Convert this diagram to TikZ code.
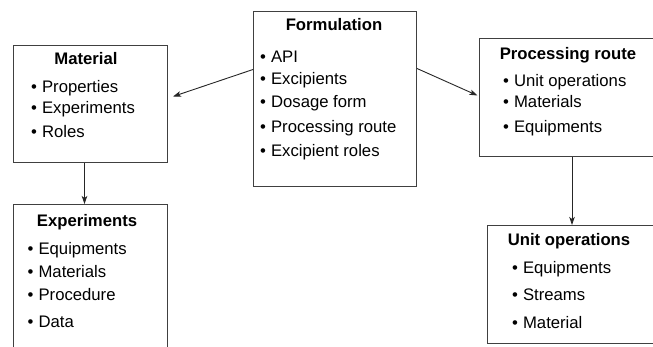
\documentclass[tikz,border=0pt]{standalone}
\usepackage{fontspec}
\setmainfont{Liberation Sans}
\usetikzlibrary{arrows.meta}
\begin{document}
\begin{tikzpicture}[x=1pt,y=-1pt,
  box/.style={draw=black!75,line width=1pt,inner sep=0pt,anchor=north west},
  ttl/.style={inner sep=0pt,anchor=base,font=\fontsize{16.7}{19}\selectfont\bfseries},
  itm/.style={inner sep=0pt,anchor=base west,font=\fontsize{16.7}{19}\selectfont},
  conn/.style={draw=black!85,line width=0.9pt,-{Stealth[length=8pt,width=5.5pt,inset=2pt]}}]
\useasboundingbox (0,0) rectangle (653,347);
\clip (0,0) rectangle (653,347);
\fill[white] (0,0) rectangle (653,347);

% boxes
\node[box,minimum width=163pt,minimum height=175pt] (form) at (253,11) {};
\node[box,minimum width=154pt,minimum height=117pt] (mat) at (13,45) {};
\node[box,minimum width=190pt,minimum height=118pt] (proc) at (479,38) {};
\node[box,minimum width=154pt,minimum height=170pt] (exp) at (13,204) {};
\node[box,minimum width=180pt,minimum height=118pt] (unit) at (487,225) {};

% Formulation
\node[ttl] (formt) at (334,30.5) {Formulation};
\node[itm] (f1) at (260,62.5) {•\hspace{0.3em}API};
\node[itm] (f2) at (260,85) {•\hspace{0.3em}Excipients};
\node[itm] (f3) at (260,108) {•\hspace{0.3em}Dosage form};
\node[itm] (f4) at (260,132.5) {•\hspace{0.3em}Processing route};
\node[itm] (f5) at (260,157) {•\hspace{0.3em}Excipient roles};

% Material
\node[ttl] (matt) at (86,65) {Material};
\node[itm] (m1) at (31,92.5) {•\hspace{0.3em}Properties};
\node[itm] (m2) at (31,113.5) {•\hspace{0.3em}Experiments};
\node[itm] (m3) at (31,138) {•\hspace{0.3em}Roles};

% Processing route
\node[ttl] (proct) at (568,60) {Processing route};
\node[itm] (p1) at (503,86.5) {•\hspace{0.3em}Unit operations};
\node[itm] (p2) at (503,107.5) {•\hspace{0.3em}Materials};
\node[itm] (p3) at (503,133) {•\hspace{0.3em}Equipments};

% Experiments
\node[ttl] (expt) at (87,226.5) {Experiments};
\node[itm] (e1) at (27.5,255) {•\hspace{0.3em}Equipments};
\node[itm] (e2) at (27.5,277.5) {•\hspace{0.3em}Materials};
\node[itm] (e3) at (27.5,301) {•\hspace{0.3em}Procedure};
\node[itm] (e4) at (27.5,327.5) {•\hspace{0.3em}Data};

% Unit operations
\node[ttl] (unitt) at (569,246) {Unit operations};
\node[itm] (u1) at (512,274) {•\hspace{0.3em}Equipments};
\node[itm] (u2) at (512,300.5) {•\hspace{0.3em}Streams};
\node[itm] (u3) at (512,328) {•\hspace{0.3em}Material};

% connectors
\coordinate (lx) at (84.5,0);
\coordinate (rx) at (572,0);
\draw[conn] ([yshift=29.5pt]form.west) -- ([xshift=5pt,yshift=7.5pt]mat.east);
\draw[conn] ([yshift=30.5pt]form.east) -- ([xshift=-1.5pt,yshift=2pt]proc.west);
\draw[conn] (lx |- mat.south) -- (lx |- exp.north);
\draw[conn] (rx |- proc.south) -- (rx |- unit.north);
\end{tikzpicture}
\end{document}
